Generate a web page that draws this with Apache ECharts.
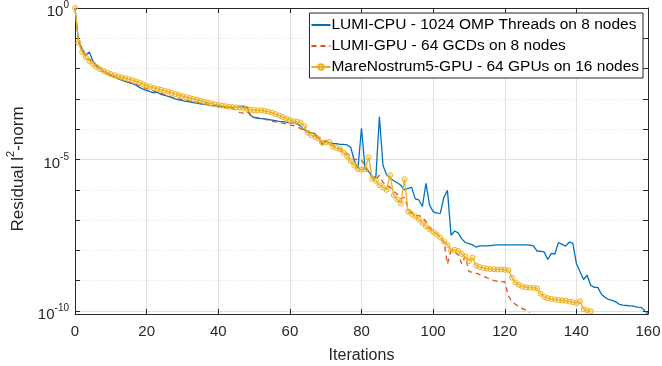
<!DOCTYPE html>
<html>
<head>
<meta charset="utf-8">
<title>Residual norm vs iterations</title>
<script src="https://cdn.jsdelivr.net/npm/echarts@6/dist/echarts.min.js"></script>
<style>
  html, body { margin: 0; padding: 0; background: #fff; }
  #chart { width: 662px; height: 366px; }
</style>
</head>
<body>
<div id="chart"></div>
<script>
// log10 of the residual l2-norm, one value per iteration
const lumiCpu = [
  0, -1.1, -1.35, -1.55, -1.45, -1.75, -1.9, -2.0, -2.08, -2.15,
  -2.22, -2.28, -2.33, -2.38, -2.42, -2.46, -2.5, -2.55, -2.62, -2.68,
  -2.72, -2.76, -2.8, -2.78, -2.85, -2.88, -2.92, -2.96, -3.0, -3.03,
  -3.06, -3.08, -3.1, -3.12, -3.14, -3.16, -3.18, -3.2, -3.22, -3.23,
  -3.25, -3.26, -3.27, -3.28, -3.28, -3.28, -3.27, -3.26, -3.27, -3.55,
  -3.62, -3.64, -3.65, -3.66, -3.68, -3.7, -3.72, -3.74, -3.75, -3.77,
  -3.79, -3.8, -3.82, -3.9, -4.02, -4.09, -4.12, -4.15, -4.28, -4.5,
  -4.38, -4.45, -4.47, -4.48, -4.5, -4.5, -4.52, -4.6, -5.05, -5.3,
  -3.97, -5.3, -5.4, -5.55, -5.6, -3.59, -5.2, -5.5, -5.62, -5.7,
  -5.77, -5.85, -6.0, -5.95, -5.92, -6.3, -6.33, -6.55, -5.79, -6.5,
  -6.72, -6.77, -6.78, -6.25, -6.02, -7.5, -7.36, -7.42, -7.62, -7.74,
  -7.78, -7.82, -7.89, -7.85, -7.85, -7.85, -7.84, -7.83, -7.82, -7.82,
  -7.82, -7.82, -7.82, -7.82, -7.82, -7.82, -7.82, -7.83, -7.85, -8.02,
  -8.03, -8.05, -8.3, -8.1, -8.12, -7.74, -7.8, -7.86, -7.73, -7.76,
  -8.43, -8.7, -8.96, -8.82, -9.15, -9.22, -9.22, -9.45, -9.55, -9.62,
  -9.65, -9.7, -9.78, -9.81, -9.82, -9.83, -9.84, -9.87, -9.88, -9.98,
  -10.1
]
const lumiGpu = [
  0, -1.1, -1.4, -1.6, -1.68, -1.8, -1.92, -2.02, -2.1, -2.16,
  -2.22, -2.27, -2.32, -2.36, -2.4, -2.44, -2.48, -2.52, -2.57, -2.62,
  -2.66, -2.7, -2.74, -2.78, -2.82, -2.86, -2.9, -2.94, -2.97, -3.0,
  -3.03, -3.05, -3.07, -3.09, -3.11, -3.13, -3.15, -3.17, -3.19, -3.21,
  -3.23, -3.25, -3.27, -3.29, -3.3, -3.38, -3.45, -3.47, -3.42, -3.52,
  -3.6, -3.62, -3.64, -3.67, -3.7, -3.73, -3.76, -3.78, -3.8, -3.83,
  -3.86, -3.88, -3.92, -3.98, -4.05, -4.1, -4.15, -4.2, -4.28, -4.38,
  -4.45, -4.5, -4.55, -4.6, -4.65, -4.72, -4.8, -4.9, -5.0, -5.0,
  -5.02, -5.2, -5.4, -5.6, -5.68, -5.52, -5.75, -5.85, -5.92, -6.05,
  -6.15, -6.3, -6.25, -6.6, -6.75, -6.85, -6.85, -6.9, -7.05, -7.25,
  -7.39, -7.45, -7.6, -7.72, -8.45, -8.0, -8.05, -8.15, -8.45, -8.2,
  -8.7, -8.72, -8.75, -8.8, -8.85, -8.9, -8.95, -9.0, -9.02, -9.03,
  -9.04, -9.5, -9.7, -9.78, -9.86, -9.92, -9.98, -10.05
]
const mn5Gpu = [
  0, -1.15, -1.45, -1.62, -1.75, -1.85, -1.95, -2.02, -2.08, -2.13,
  -2.18, -2.22, -2.26, -2.29, -2.32, -2.35, -2.38, -2.42, -2.46, -2.52,
  -2.57, -2.6, -2.64, -2.67, -2.7, -2.73, -2.76, -2.8, -2.84, -2.87,
  -2.91, -2.94, -2.97, -3.0, -3.03, -3.06, -3.09, -3.12, -3.15, -3.18,
  -3.2, -3.22, -3.24, -3.26, -3.27, -3.28, -3.29, -3.3, -3.33, -3.36,
  -3.37, -3.38, -3.38, -3.4, -3.42, -3.45, -3.5, -3.55, -3.6, -3.65,
  -3.7, -3.74, -3.75, -3.78, -3.9, -4.12, -4.2, -4.25, -4.32, -4.45,
  -4.44, -4.42, -4.58, -4.62, -4.66, -4.78, -4.9, -5.05, -5.2, -5.32,
  -5.34, -5.32, -4.93, -5.63, -5.7, -5.85, -5.92, -6.0, -5.52, -6.18,
  -6.32, -6.45, -5.65, -6.72, -6.8, -6.88, -6.97, -7.1, -7.2, -7.3,
  -7.39, -7.47, -7.58, -7.7, -7.82, -8.0, -7.98, -8.02, -8.12, -8.2,
  -8.35, -8.24, -8.5, -8.55, -8.58, -8.6, -8.62, -8.62, -8.63, -8.63,
  -8.64, -8.65, -8.9, -9.06, -9.14, -9.2, -9.22, -9.23, -9.24, -9.25,
  -9.43, -9.53, -9.58, -9.6, -9.62, -9.64, -9.65, -9.66, -9.69, -9.71,
  -9.74, -9.68, -9.94, -9.98, -10.01
]
const decades = [0, -1, -2, -3, -4, -5, -6, -7, -8, -9, -10]
const labelledDecades = [0, -5, -10]
const seriesNames = [
  'LUMI-CPU - 1024 OMP Threads on 8 nodes',
  'LUMI-GPU - 64 GCDs on 8 nodes',
  'MareNostrum5-GPU - 64 GPUs on 16 nodes'
]

const font = 'Liberation Sans, Arial, Helvetica, sans-serif'
const ink = '#262626'
const toPoints = arr => arr.map((v, i) => [i, v])

const chart = echarts.init(document.getElementById('chart'))

chart.setOption({
  animation: false,
  textStyle: { fontFamily: font, color: ink },
  grid: { left: 75, right: 14, top: 8, bottom: 52, outerBoundsMode: 'none' },
  legend: {
    top: 13,
    right: 19,
    orient: 'vertical',
    backgroundColor: '#fff',
    borderColor: ink,
    borderWidth: 1,
    borderRadius: 0,
    padding: [4, 4, 3, 1],
    itemGap: 5,
    itemWidth: 19,
    itemHeight: 7,
    textStyle: { fontFamily: font, fontSize: 15.5, color: '#000', padding: [0, 0, 0, -4] },
    data: [
      { name: seriesNames[0], itemStyle: { opacity: 0 } },
      { name: seriesNames[1], itemStyle: { opacity: 0 } },
      { name: seriesNames[2] }
    ]
  },
  xAxis: [{
    type: 'value',
    min: 0,
    max: 160,
    interval: 20,
    name: 'Iterations',
    nameLocation: 'middle',
    nameGap: 34,
    nameTextStyle: { fontSize: 16, color: ink, fontFamily: font },
    axisLine: { show: true, onZero: false, lineStyle: { color: ink, width: 1 } },
    axisTick: { inside: true, length: 5, lineStyle: { color: ink } },
    axisLabel: { fontSize: 15, color: ink, margin: 10, fontFamily: font },
    splitLine: { show: true, lineStyle: { color: '#e0e0e0', width: 1 } }
  }, {
    type: 'value',
    position: 'top',
    min: 0,
    max: 160,
    interval: 20,
    axisLine: { show: true, onZero: false, lineStyle: { color: ink, width: 1 } },
    axisTick: { inside: true, length: 5, lineStyle: { color: ink } },
    axisLabel: { show: false },
    splitLine: { show: false }
  }],
  yAxis: [{
    type: 'value',
    min: -10.1,
    max: 0,
    name: '{n|Residual l}{s|2}{n|-norm}',
    nameLocation: 'middle',
    nameGap: 45,
    nameTextStyle: {
      fontSize: 17,
      color: ink,
      fontFamily: font,
      padding: [0, 16, 0, 0],
      rich: {
        n: { fontSize: 17, color: ink, fontFamily: font, padding: [6, 0, 0, 0] },
        s: { fontSize: 11, color: ink, fontFamily: font, verticalAlign: 'top', padding: [2, 0, 0, 0] }
      }
    },
    axisLine: { show: true, onZero: false, lineStyle: { color: ink, width: 1 } },
    axisTick: { inside: true, length: 5, customValues: decades, lineStyle: { color: ink } },
    axisLabel: {
      customValues: labelledDecades,
      margin: 6,
      formatter: v => '{b|10}{s|' + v + '}',
      rich: {
        b: { fontSize: 15, color: ink, fontFamily: font, padding: [8, 0, 0, 0] },
        s: { fontSize: 10, color: ink, fontFamily: font, verticalAlign: 'top', padding: [4, 0, 0, 0] }
      }
    },
    splitLine: { show: true, lineStyle: { color: '#e4e4e4', width: 1, type: [1, 2] } }
  }, {
    type: 'value',
    position: 'right',
    min: -10.1,
    max: 0,
    axisLine: { show: true, onZero: false, lineStyle: { color: ink, width: 1 } },
    axisTick: { inside: true, length: 5, customValues: decades, lineStyle: { color: ink } },
    axisLabel: { show: false },
    splitLine: { show: false }
  }, {
    type: 'value',
    min: -10.1,
    max: 0,
    axisLine: { show: false },
    axisTick: { show: false, customValues: labelledDecades },
    axisLabel: { show: false },
    splitLine: { show: true, lineStyle: { color: '#e0e0e0', width: 1 } }
  }],
  series: [{
    name: seriesNames[0],
    type: 'line',
    data: toPoints(lumiCpu),
    symbol: 'none',
    lineStyle: { color: '#0072BD', width: 1.3 },
    itemStyle: { color: '#0072BD' }
  }, {
    name: seriesNames[1],
    type: 'line',
    data: toPoints(lumiGpu),
    symbol: 'none',
    lineStyle: { color: '#D95319', width: 1.3, type: [5, 4] },
    itemStyle: { color: '#D95319' }
  }, {
    name: seriesNames[2],
    type: 'line',
    data: toPoints(mn5Gpu),
    symbol: 'circle',
    symbolSize: 5,
    lineStyle: { color: '#EDB120', width: 1.3 },
    itemStyle: { color: 'rgba(237,177,32,0.15)', borderColor: '#EDB120', borderWidth: 1 }
  }]
})
</script>
</body>
</html>
